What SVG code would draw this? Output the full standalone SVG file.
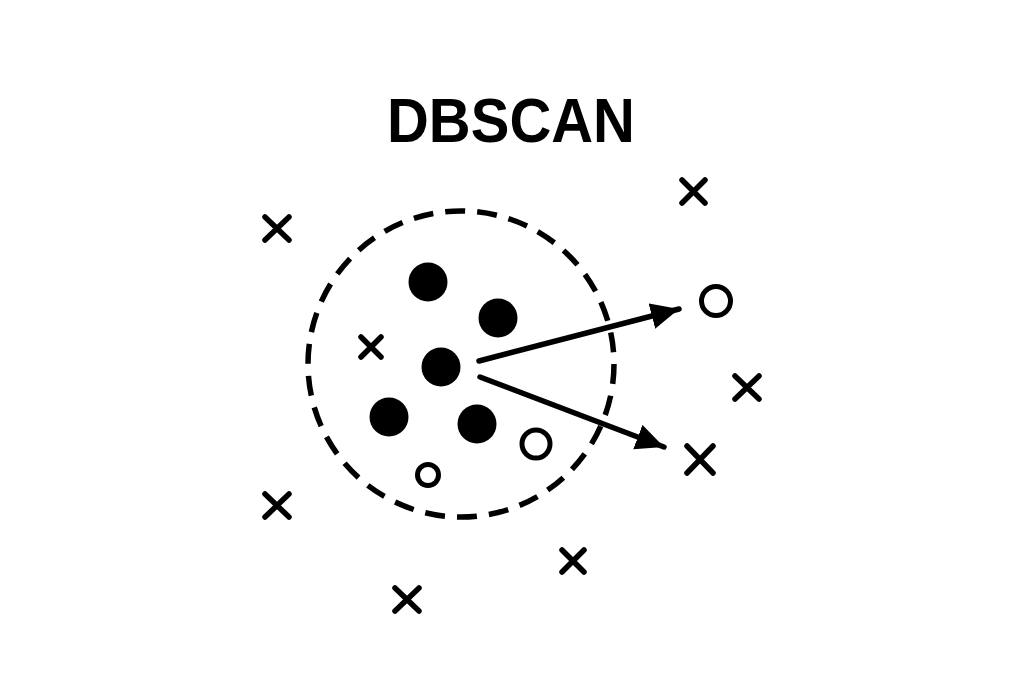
<svg xmlns="http://www.w3.org/2000/svg" width="1024" height="685" viewBox="0 0 1024 685">
<defs>
<style>
.x{stroke:#000;stroke-width:5.5;stroke-linecap:round;fill:none}
.core{fill:#000}
.open{fill:none;stroke:#000;stroke-width:5}
.edge{stroke:#000;stroke-width:5.5;stroke-linecap:round;fill:none}
.title{font-family:"Liberation Sans",Arial,sans-serif;font-weight:bold;font-size:63px;fill:#000}
</style>
<marker id="ah" markerUnits="userSpaceOnUse" markerWidth="32" markerHeight="30" refX="28" refY="13" orient="auto">
<path d="M0,0 L28,13 L0,26 Z" fill="#000"/>
</marker>
</defs>
<rect width="1024" height="685" fill="#fff"/>
<text class="title" x="511" y="142" text-anchor="middle" textLength="248" lengthAdjust="spacingAndGlyphs">DBSCAN</text>
<g id="eps-circle"><circle cx="461" cy="364" r="153" fill="none" stroke="#000" stroke-width="5.5" stroke-dasharray="20 12.04"/></g>
<g id="core-points">
<circle class="core" cx="428" cy="282" r="19.5"/>
<circle class="core" cx="498" cy="318" r="19.5"/>
<circle class="core" cx="441" cy="367" r="19.5"/>
<circle class="core" cx="389" cy="417" r="19.5"/>
<circle class="core" cx="477" cy="424" r="19.5"/>
</g>
<g id="border-points">
<circle class="open" cx="536" cy="444" r="14"/>
<circle class="open" cx="428" cy="475" r="10.5" stroke-width="4.5"/>
<circle class="open" cx="716" cy="301" r="14.5"/>
</g>
<g id="noise-points">
<path class="x" d="M361,337 L381,357 M381,337 L361,357" stroke-width="5"/>
<path class="x" d="M265,217 L289,240 M289,217 L265,240"/>
<path class="x" d="M682,180 L705,203 M705,180 L682,203"/>
<path class="x" d="M265,494 L289,517 M289,494 L265,517"/>
<path class="x" d="M562,550 L584,572 M584,550 L562,572"/>
<path class="x" d="M395,588 L419,611 M419,588 L395,611"/>
<path class="x" d="M735,376 L759,399 M759,376 L735,399"/>
<path class="x" d="M687,446 L713,473 M713,446 L687,473"/>
</g>
<g id="connectors">
<line class="edge" x1="479" y1="361" x2="679" y2="309" marker-end="url(#ah)"/>
<line class="edge" x1="480" y1="377" x2="664" y2="447" marker-end="url(#ah)"/>
</g>
</svg>
